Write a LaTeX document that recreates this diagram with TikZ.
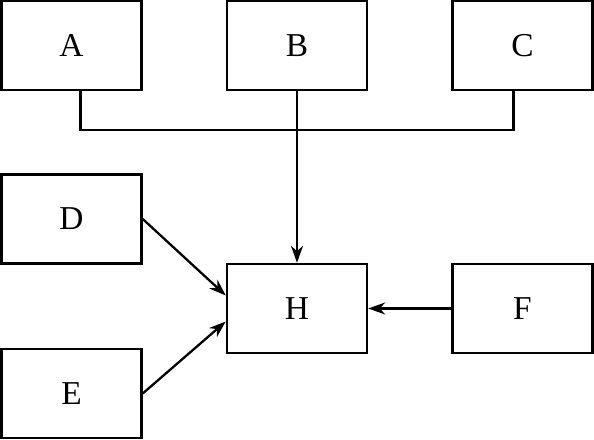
\documentclass[tikz,border=0pt]{standalone}
\usepackage{fontspec}
\setmainfont{Liberation Serif}
\usetikzlibrary{arrows.meta}
\begin{document}
\begin{tikzpicture}[x=0.2mm,y=-0.2mm]
        \tikzset{block/.style = {shape=rectangle,draw,line width=1.4pt,minimum width=28mm,minimum height=17.8mm,inner sep=0pt,font=\fontsize{19}{22}\selectfont}}
        \tikzset{edge/.style = {line width=1.3pt,-{Stealth[length=3.4mm,width=2.4mm]}}}
        \useasboundingbox (0,0) rectangle (594,440);
        % blocks on top
        \node[block] (a) at (71.5,45.5) {A};
        \node[block] (b) at (297,45.5) {B};
        \node[block] (c) at (522.5,45.5) {C};
        % blocks below
        \node[block] (d) at (71.5,219) {D};
        \node[block] (e) at (71.5,393.5) {E};
        \node[block] (h) at (297,308.5) {H};
        \node[block] (f) at (522.5,308.5) {F};
        % junction under B
        \coordinate (j) at (297,130);
        \draw[line width=1.3pt] ([xshift=1.8mm]a.south) |- (j) -| ([xshift=-1.8mm]c.south);
        \draw[edge] (b) to (h);
        \draw[edge] (d.east) to ([yshift=2.6mm]h.west);
        \draw[edge] (e.east) to ([yshift=-2.6mm]h.west);
        \draw[edge] (f) to (h);
\end{tikzpicture}
\end{document}
